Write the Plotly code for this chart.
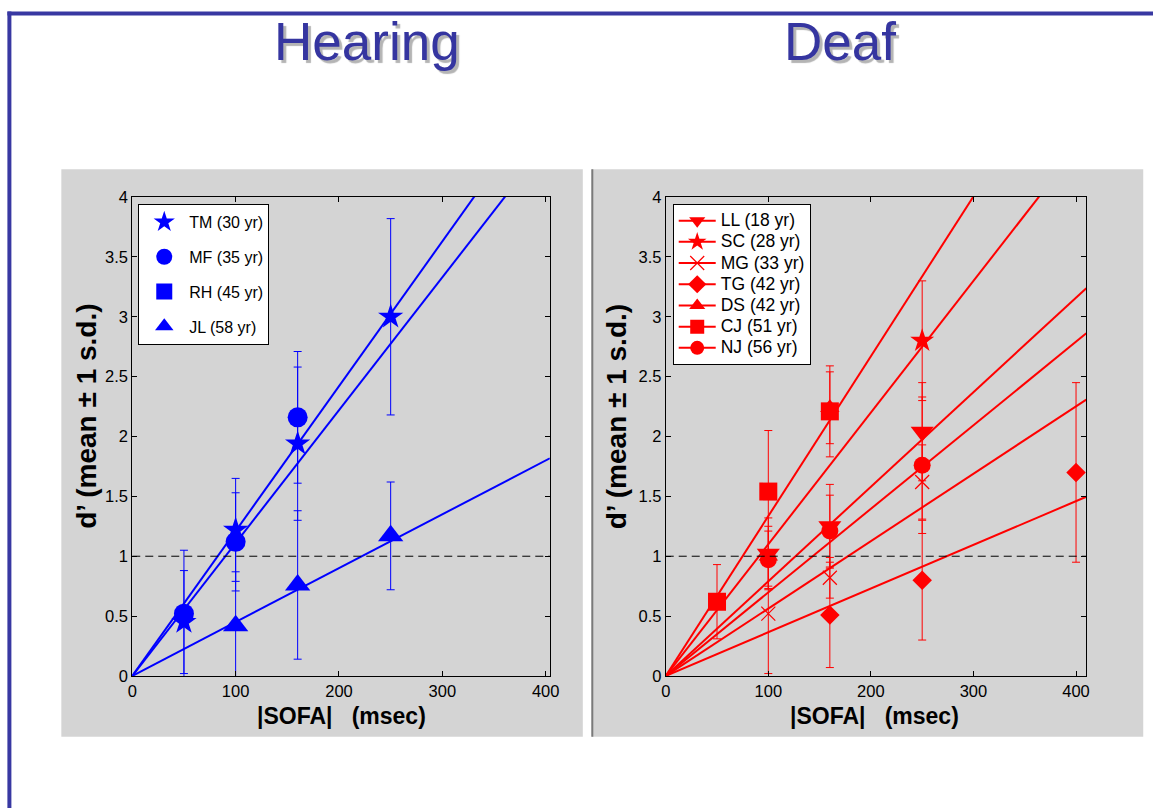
import plotly.graph_objects as go

# ---------------- data ----------------
# Hearing panel
TM_x = [50, 100, 160, 250]; TM_y = [0.45, 1.22, 1.94, 3.00]; TM_err = [0.43, 0.43, 0.64, 0.82]
MF_x = [50, 100, 160];      MF_y = [0.52, 1.12, 2.16];       MF_err = [0.53, 0.41, 0.55]
RH_x = [];                  RH_y = [];                       RH_err = []
JL_x = [100, 160, 250];     JL_y = [0.42, 0.76, 1.17];       JL_err = [0.45, 0.62, 0.45]
hearing_names = ["TM (30 yr)", "MF (35 yr)", "RH (45 yr)", "JL (58 yr)"]
hearing_slopes = [0.0121, 0.0111, None, 0.0045]

# Deaf panel
LL_x = [100, 160, 250]; LL_y = [1.02, 1.25, 2.04]; LL_err = [0.30, 0.35, 0.41]
SC_x = [250];           SC_y = [2.80];             SC_err = [0.50]
MG_x = [100, 160, 250]; MG_y = [0.52, 0.82, 1.62]; MG_err = [0.50, 0.17, 0.31]
TG_x = [160, 250, 400]; TG_y = [0.51, 0.80, 1.70]; TG_err = [0.44, 0.50, 0.75]
DS_x = [100, 160];      DS_y = [1.00, 2.24];       DS_err = [0.25, 0.30]
CJ_x = [50, 100, 160];  CJ_y = [0.62, 1.54, 2.21]; CJ_err = [0.31, 0.51, 0.38]
NJ_x = [100, 160, 250]; NJ_y = [0.97, 1.21, 1.76]; NJ_err = [0.24, 0.30, 0.57]
deaf_names = ["LL (18 yr)", "SC (28 yr)", "MG (33 yr)", "TG (42 yr)", "DS (42 yr)", "CJ (51 yr)", "NJ (56 yr)"]
deaf_slopes = [0.0079, 0.0110, 0.00563, 0.00365, None, 0.01335, 0.00698]

criterion = 1.0
x_ticks = [0, 100, 200, 300, 400]
y_ticks = [0, 0.5, 1, 1.5, 2, 2.5, 3, 3.5, 4]
x_max_left = 404
x_max_right = 410
y_max = 4

# ---------------- styling ----------------
W, H = 1153, 808
# calibration of the photographed page (figure -> picture pixels)
SX, BX = 0.988, 3.6
SY, BY = 0.980, 6.5
FONT = "Arial, Liberation Sans, sans-serif"
BLUE = "#0000ff"
RED = "#ff0000"
FRAME = "#3838a2"

def px(x):
    return ((x - BX) / SX) / W

def py(y):
    return 1 - ((y - BY) / SY) / H

fig = go.Figure()

hearing = [(TM_x, TM_y, TM_err), (MF_x, MF_y, MF_err), (RH_x, RH_y, RH_err), (JL_x, JL_y, JL_err)]
hearing_sym = ["star", "circle", "square", "triangle-up"]
hearing_size = [19, 20, 17, 22]

deaf = [(LL_x, LL_y, LL_err), (SC_x, SC_y, SC_err), (MG_x, MG_y, MG_err), (TG_x, TG_y, TG_err),
        (DS_x, DS_y, DS_err), (CJ_x, CJ_y, CJ_err), (NJ_x, NJ_y, NJ_err)]
deaf_sym = ["triangle-down", "star", "x-thin-open", "diamond", "triangle-up", "square", "circle"]
deaf_size = [20, 18, 14, 15, 17, 18, 17]

# regression lines
for s in hearing_slopes:
    if s is None:
        continue
    fig.add_trace(go.Scatter(x=[0, x_max_left], y=[0, s * x_max_left], mode="lines",
                             line=dict(color=BLUE, width=2), showlegend=False,
                             hoverinfo="skip", xaxis="x", yaxis="y"))
for s in deaf_slopes:
    if s is None:
        continue
    fig.add_trace(go.Scatter(x=[0, x_max_right], y=[0, s * x_max_right], mode="lines",
                             line=dict(color=RED, width=2), showlegend=False,
                             hoverinfo="skip", xaxis="x2", yaxis="y2"))

# data points with error bars
for (xs, ys, es), sym, sz in zip(hearing, hearing_sym, hearing_size):
    if not xs:
        continue
    fig.add_trace(go.Scatter(x=xs, y=ys, mode="markers",
                             marker=dict(symbol=sym, size=sz, color=BLUE, line=dict(width=0)),
                             error_y=dict(type="data", array=es, visible=True, color=BLUE,
                                          thickness=1, width=4),
                             showlegend=False, xaxis="x", yaxis="y"))
for (xs, ys, es), sym, sz in zip(deaf, deaf_sym, deaf_size):
    if not xs:
        continue
    mline = dict(width=1.2, color=RED) if "open" in sym else dict(width=0)
    fig.add_trace(go.Scatter(x=xs, y=ys, mode="markers",
                             marker=dict(symbol=sym, size=sz, color=RED, line=mline),
                             error_y=dict(type="data", array=es, visible=True, color=RED,
                                          thickness=1, width=4),
                             showlegend=False, xaxis="x2", yaxis="y2"))

# legend entries
for i, (name, sym) in enumerate(zip(hearing_names, hearing_sym)):
    fig.add_trace(go.Scatter(x=[None], y=[None], mode="markers", name=name,
                             marker=dict(symbol=sym, size=16, color=BLUE),
                             legend="legend", legendgroup="h%d" % i,
                             xaxis="x", yaxis="y"))
for i, (name, sym) in enumerate(zip(deaf_names, deaf_sym)):
    mline = dict(width=1.2, color=RED) if "open" in sym else dict(width=0)
    fig.add_trace(go.Scatter(x=[None], y=[None], mode="lines+markers",
                             name='<span style="font-size:17.5px">%s</span>' % name,
                             line=dict(color=RED, width=2),
                             marker=dict(symbol=sym, size=14, color=RED, line=mline),
                             legend="legend2", xaxis="x2", yaxis="y2"))

axis_common = dict(showline=True, linecolor="black", linewidth=1, mirror="ticks",
                   ticks="inside", ticklen=5, tickcolor="black", showgrid=False,
                   zeroline=False, tickfont=dict(family=FONT, size=16.5, color="black"))

ydom = [py(675), py(195)]
fig.update_layout(
    width=W, height=H,
    margin=dict(l=0, r=0, t=0, b=0),
    paper_bgcolor="white", plot_bgcolor="white",
    font=dict(family=FONT, color="black"),
    xaxis=dict(domain=[px(131), px(549)], range=[0, x_max_left], tickvals=x_ticks,
               anchor="y", **axis_common),
    yaxis=dict(domain=ydom, range=[0, y_max], tickvals=y_ticks, anchor="x", **axis_common),
    xaxis2=dict(domain=[px(665), px(1086)], range=[0, x_max_right], tickvals=x_ticks,
                anchor="y2", **axis_common),
    yaxis2=dict(domain=ydom, range=[0, y_max], tickvals=y_ticks, anchor="x2", **axis_common),
    legend=dict(x=px(137), y=py(202), xanchor="left", yanchor="top",
                bgcolor="white", bordercolor="black", borderwidth=1,
                font=dict(family=FONT, size=16, color="black"),
                tracegroupgap=11, itemsizing="trace", itemwidth=40),
    legend2=dict(x=px(672), y=py(202), xanchor="left", yanchor="top",
                 bgcolor="white", bordercolor="black", borderwidth=1,
                 font=dict(family=FONT, size=14, color="black"),
                 tracegroupgap=0, itemsizing="trace", itemwidth=37),
)

shapes = [
    # gray panels
    dict(type="rect", xref="paper", yref="paper", x0=px(60), x1=px(582), y0=py(736), y1=py(167),
         fillcolor="#d4d4d4", line=dict(width=0), layer="below"),
    dict(type="rect", xref="paper", yref="paper", x0=px(591), x1=px(1143), y0=py(736), y1=py(167),
         fillcolor="#d4d4d4", line=dict(width=0), layer="below"),
    dict(type="line", xref="paper", yref="paper", x0=px(591.5), x1=px(591.5), y0=py(736), y1=py(167),
         line=dict(color="#7a7a7a", width=2)),
    # outer frame
    dict(type="line", xref="paper", yref="paper", x0=px(6), x1=1.02, y0=py(11), y1=py(11),
         line=dict(color=FRAME, width=4)),
    dict(type="line", xref="paper", yref="paper", x0=px(8), x1=px(8), y0=py(9), y1=-0.02,
         line=dict(color=FRAME, width=4)),
    # criterion line d' = 1
    dict(type="line", xref="x domain", yref="y", x0=0, x1=1, y0=criterion, y1=criterion,
         line=dict(color="black", width=1, dash="8px,5px")),
    dict(type="line", xref="x2 domain", yref="y2", x0=0, x1=1, y0=criterion, y1=criterion,
         line=dict(color="black", width=1, dash="8px,5px")),
]
fig.update_layout(shapes=shapes)

annotations = []
for text, cx in [("Hearing", 366), ("Deaf", 839)]:
    annotations.append(dict(text=text, xref="paper", yref="paper", x=px(cx), y=py(39),
                            showarrow=False, xanchor="center", yanchor="middle",
                            font=dict(family=FONT, size=53, color="#3535a0",
                                      shadow="3px 3px 1px #b4b4b4")))
for cx in [340, 874]:
    annotations.append(dict(text="<b>|SOFA|\u00a0\u00a0\u00a0(msec)</b>", xref="paper", yref="paper",
                            x=px(cx), y=py(715), showarrow=False, xanchor="center",
                            yanchor="middle", font=dict(family=FONT, size=23, color="black")))
for cx in [85, 616]:
    annotations.append(dict(text="<b>d\u2019 (mean \u00b1 1 s.d.)</b>", xref="paper", yref="paper",
                            x=px(cx), y=py(415), showarrow=False, textangle=-90,
                            xanchor="center", yanchor="middle",
                            font=dict(family=FONT, size=28, color="black")))
fig.update_layout(annotations=annotations)

fig.write_html("out.html")
